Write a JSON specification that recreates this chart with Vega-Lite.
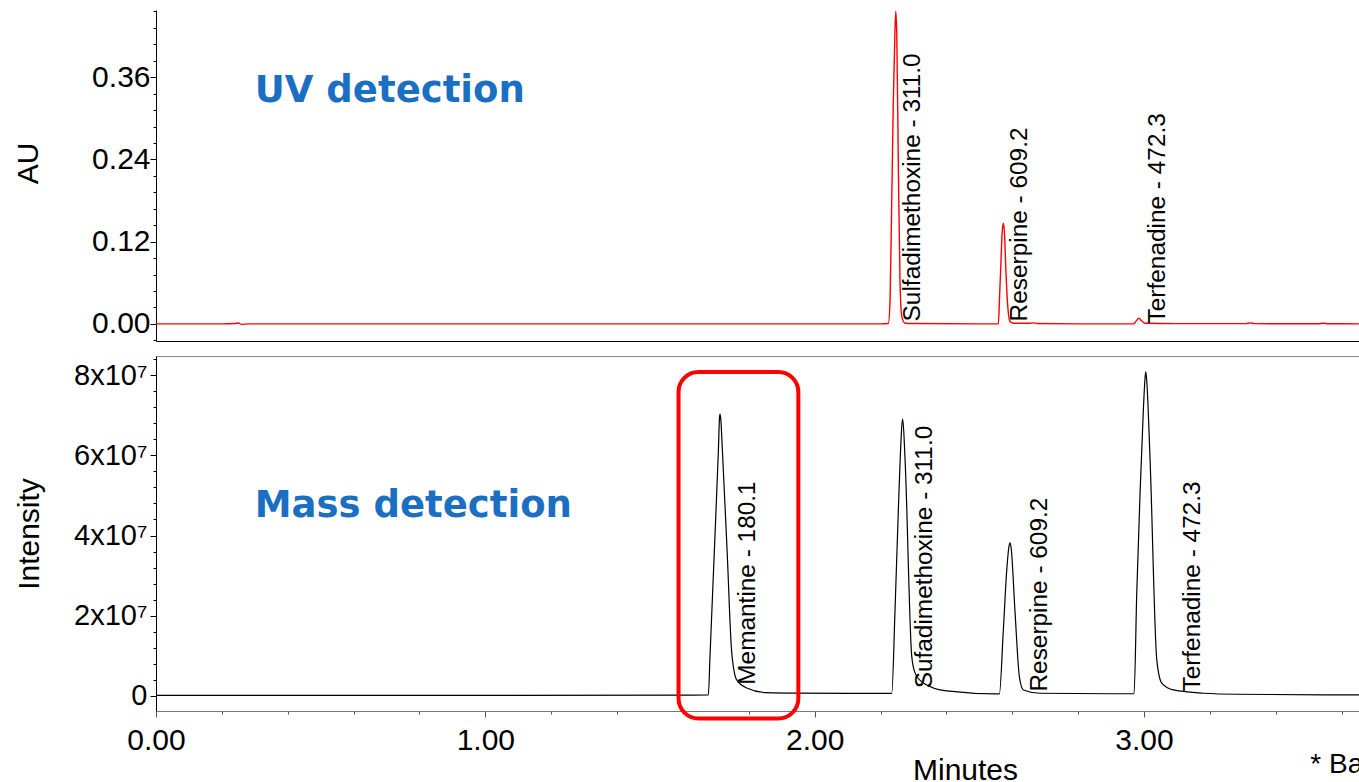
{
  "$schema": "https://vega.github.io/schema/vega-lite/v6.json",
  "background": "white",
  "padding": {"left": 13, "top": 8, "right": 0, "bottom": 0},
  "spacing": 14,
  "config": {
    "font": "Liberation Sans",
    "axis": {"labelFont": "Liberation Sans", "labelFontSize": 30, "labelColor": "black", "titleFont": "Liberation Sans", "titleFontSize": 30, "titleFontWeight": "normal", "titleColor": "black", "domainColor": "black", "tickColor": "black", "grid": false, "labelOverlap": false, "labelFlush": false}
  },
  "datasets": {
    "uv": [
      {"t": 0, "v": 0}, {"t": 0.2, "v": 0}, {"t": 0.24, "v": 0.0005}, {"t": 0.25, "v": 0.0012}, {"t": 0.26, "v": -0.0008}, {"t": 0.28, "v": 0},
      {"t": 1.0, "v": 0}, {"t": 2.0, "v": 0}, {"t": 2.2, "v": 0}, {"t": 2.2238, "v": 0.0005}, {"t": 2.229, "v": 0.035}, {"t": 2.2341, "v": 0.18},
      {"t": 2.239, "v": 0.327}, {"t": 2.2435, "v": 0.42}, {"t": 2.2463, "v": 0.456}, {"t": 2.2493, "v": 0.424}, {"t": 2.2542, "v": 0.229},
      {"t": 2.2593, "v": 0.06}, {"t": 2.2645, "v": 0.011}, {"t": 2.2745, "v": 0.001}, {"t": 2.3, "v": 0.0005}, {"t": 2.5, "v": 0},
      {"t": 2.5578, "v": 0}, {"t": 2.5615, "v": 0.04}, {"t": 2.5652, "v": 0.0836}, {"t": 2.569, "v": 0.13}, {"t": 2.573, "v": 0.1468},
      {"t": 2.5767, "v": 0.13}, {"t": 2.5803, "v": 0.0836}, {"t": 2.585, "v": 0.035}, {"t": 2.5934, "v": 0.0034}, {"t": 2.6034, "v": 0.001},
      {"t": 2.65, "v": 0.0008}, {"t": 2.663, "v": 0.0015}, {"t": 2.675, "v": 0.0005}, {"t": 2.8, "v": 0}, {"t": 2.968, "v": 0},
      {"t": 2.976, "v": 0.004}, {"t": 2.9842, "v": 0.0083}, {"t": 2.992, "v": 0.005}, {"t": 3.0033, "v": 0.001}, {"t": 3.1, "v": 0.0003},
      {"t": 3.31, "v": 0.0003}, {"t": 3.322, "v": 0.0015}, {"t": 3.335, "v": 0.0003}, {"t": 3.53, "v": 0.0002}, {"t": 3.544, "v": 0.001},
      {"t": 3.56, "v": 0.0002}, {"t": 3.66, "v": 0}
    ],
    "ms": [
      {"t": 0, "v": 150000}, {"t": 1.0, "v": 150000}, {"t": 1.6, "v": 200000}, {"t": 1.6772, "v": 250000}, {"t": 1.6823, "v": 10000000},
      {"t": 1.6975, "v": 40250000}, {"t": 1.7076, "v": 61000000}, {"t": 1.7112, "v": 69500000}, {"t": 1.7127, "v": 70250000}, {"t": 1.715, "v": 69000000},
      {"t": 1.7197, "v": 61500000}, {"t": 1.734, "v": 36500000}, {"t": 1.7483, "v": 10750000}, {"t": 1.7634, "v": 4000000}, {"t": 1.7938, "v": 2000000},
      {"t": 1.8545, "v": 825000}, {"t": 1.9456, "v": 700000}, {"t": 2.1, "v": 650000}, {"t": 2.2341, "v": 650000}, {"t": 2.2441, "v": 21500000},
      {"t": 2.2542, "v": 46500000}, {"t": 2.2655, "v": 68000000}, {"t": 2.2675, "v": 69000000}, {"t": 2.2745, "v": 59000000}, {"t": 2.2949, "v": 9800000},
      {"t": 2.3049, "v": 5750000}, {"t": 2.3301, "v": 3250000}, {"t": 2.4012, "v": 1250000}, {"t": 2.553, "v": 500000}, {"t": 2.5609, "v": 500000},
      {"t": 2.573, "v": 16500000}, {"t": 2.5834, "v": 31500000}, {"t": 2.5905, "v": 37500000}, {"t": 2.5934, "v": 38200000}, {"t": 2.5965, "v": 37000000},
      {"t": 2.6086, "v": 20750000}, {"t": 2.6216, "v": 4800000}, {"t": 2.6338, "v": 1500000}, {"t": 2.6845, "v": 675000}, {"t": 2.9, "v": 550000},
      {"t": 2.9699, "v": 550000}, {"t": 2.9781, "v": 25750000}, {"t": 2.9882, "v": 50750000}, {"t": 2.9982, "v": 71500000}, {"t": 3.0035, "v": 79500000},
      {"t": 3.0055, "v": 80800000}, {"t": 3.008, "v": 79000000}, {"t": 3.0185, "v": 59000000}, {"t": 3.0389, "v": 9000000}, {"t": 3.0541, "v": 3200000},
      {"t": 3.0893, "v": 1500000}, {"t": 3.1804, "v": 675000}, {"t": 3.2818, "v": 425000}, {"t": 3.66, "v": 250000}
    ],
    "uvLabels": [
      {"t": 2.2988, "v": 0.0036, "label": "Sulfadimethoxine - 311.0"},
      {"t": 2.6237, "v": 0.0036, "label": "Reserpine - 609.2"},
      {"t": 3.0428, "v": 0.0007, "label": "Terfenadine - 472.3"}
    ],
    "msLabels": [
      {"t": 1.7962, "v": 2800000, "label": "Memantine - 180.1"},
      {"t": 2.3353, "v": 1900000, "label": "Sufadimethoxine - 311.0"},
      {"t": 2.6845, "v": 1100000, "label": "Reserpine - 609.2"},
      {"t": 3.15, "v": 1100000, "label": "Terfenadine - 472.3"}
    ],
    "uvTitle": [{"t": 0.3, "v": 0.3397, "label": "UV detection"}],
    "msTitle": [{"t": 0.3, "v": 47250000, "label": "Mass detection"}],
    "box": [{"t": 1.5867, "t2": 1.9505, "v": 80750000, "v2": -5625000}],
    "note": [{"t": 3.505, "v": -19250000, "label": "* Ba"}]
  },
  "vconcat": [
    {
      "width": 1205,
      "height": 331,
      "view": {"stroke": null},
      "encoding": {
        "x": {"field": "t", "type": "quantitative", "scale": {"domain": [0, 3.659], "nice": false, "zero": false},
              "axis": {"title": null, "labels": false, "ticks": false, "domain": true, "domainColor": "black"}},
        "y": {"field": "v", "type": "quantitative", "scale": {"domain": [-0.025, 0.458], "nice": false, "zero": false},
              "axis": {"title": "AU", "titleX": -119, "titleY": 153, "titleBaseline": "alphabetic", "titleAngle": -90,
                       "values": [-0.024, 0, 0.024, 0.048, 0.072, 0.096, 0.12, 0.144, 0.168, 0.192, 0.216, 0.24, 0.264, 0.288, 0.312, 0.336, 0.36, 0.384, 0.408, 0.432, 0.456],
                       "labelExpr": "abs(datum.value/0.12 - round(datum.value/0.12)) < 0.01 ? format(datum.value, '.2f') : ''",
                       "labelFontSize": {"condition": {"test": "abs(datum.value/0.12 - round(datum.value/0.12)) < 0.01", "value": 30}, "value": 0},
                       "tickSize": {"condition": {"test": "abs(datum.value/0.12 - round(datum.value/0.12)) < 0.01", "value": 6}, "value": 3},
                       "labelPadding": 0}}
      },
      "layer": [
        {"data": {"name": "uv"}, "mark": {"type": "line", "color": "#ff0000", "strokeWidth": 1.4, "interpolate": "monotone"}},
        {"data": {"name": "uvLabels"}, "mark": {"type": "text", "angle": -90, "align": "left", "baseline": "middle", "fontSize": 24.4, "font": "Liberation Sans", "color": "black"},
         "encoding": {"text": {"field": "label"}}},
        {"data": {"name": "uvTitle"}, "mark": {"type": "text", "align": "left", "baseline": "middle", "fontSize": 37, "font": "DejaVu Sans", "fontWeight": "bold", "color": "#1a6fc2"},
         "encoding": {"text": {"field": "label"}}}
      ]
    },
    {
      "width": 1205,
      "height": 355,
      "view": {"stroke": "#888888"},
      "encoding": {
        "x": {"field": "t", "type": "quantitative", "scale": {"domain": [0, 3.659], "nice": false, "zero": false},
              "axis": {"title": "Minutes", "titleX": 809, "titleY": 44, "titleBaseline": "top", "domainColor": "#777777", "tickColor": "#555555",
                       "values": [0, 0.2, 0.4, 0.6, 0.8, 1, 1.2, 1.4, 1.6, 1.8, 2, 2.2, 2.4, 2.6, 2.8, 3, 3.2, 3.4, 3.6],
                       "labelExpr": "abs(datum.value - round(datum.value)) < 0.01 ? format(datum.value, '.2f') : ''",
                       "tickSize": {"condition": {"test": "abs(datum.value - round(datum.value)) < 0.01", "value": 6}, "value": 3},
                       "labelPadding": 8}},
        "y": {"field": "v", "type": "quantitative", "scale": {"domain": [-3750000, 84750000], "nice": false, "zero": false},
              "axis": {"title": "Intensity", "titleX": -118, "titleBaseline": "alphabetic", "titleAngle": -90,
                       "values": [0, 4000000, 8000000, 12000000, 16000000, 20000000, 24000000, 28000000, 32000000, 36000000, 40000000, 44000000, 48000000, 52000000, 56000000, 60000000, 64000000, 68000000, 72000000, 76000000, 80000000, 84000000],
                       "labelExpr": "datum.value == 0 ? '0' : (abs(datum.value/2e7 - round(datum.value/2e7)) < 0.01 ? format(datum.value/1e7, 'd') + 'x10⁷' : '')",
                       "labelFontSize": {"condition": {"test": "abs(datum.value/2e7 - round(datum.value/2e7)) < 0.01", "value": 29}, "value": 0},
                       "tickSize": {"condition": {"test": "abs(datum.value/2e7 - round(datum.value/2e7)) < 0.01", "value": 6}, "value": 3},
                       "labelPadding": 3}}
      },
      "layer": [
        {"data": {"name": "ms"}, "mark": {"type": "line", "color": "black", "strokeWidth": 1.2, "interpolate": "monotone"}},
        {"data": {"name": "msLabels"}, "mark": {"type": "text", "angle": -90, "align": "left", "baseline": "middle", "fontSize": 24.4, "font": "Liberation Sans", "color": "black"},
         "encoding": {"text": {"field": "label"}}},
        {"data": {"name": "msTitle"}, "mark": {"type": "text", "align": "left", "baseline": "middle", "fontSize": 37, "font": "DejaVu Sans", "fontWeight": "bold", "color": "#1a6fc2"},
         "encoding": {"text": {"field": "label"}}},
        {"data": {"name": "box"}, "mark": {"type": "rect", "fill": null, "filled": false, "stroke": "#ff0000", "strokeWidth": 4, "cornerRadius": 20, "clip": false},
         "encoding": {"x2": {"field": "t2"}, "y2": {"field": "v2"}}},
        {"data": {"name": "note"}, "mark": {"type": "text", "align": "left", "baseline": "alphabetic", "fontSize": 28, "font": "Liberation Sans", "color": "black"},
         "encoding": {"text": {"field": "label"}}}
      ]
    }
  ]
}
